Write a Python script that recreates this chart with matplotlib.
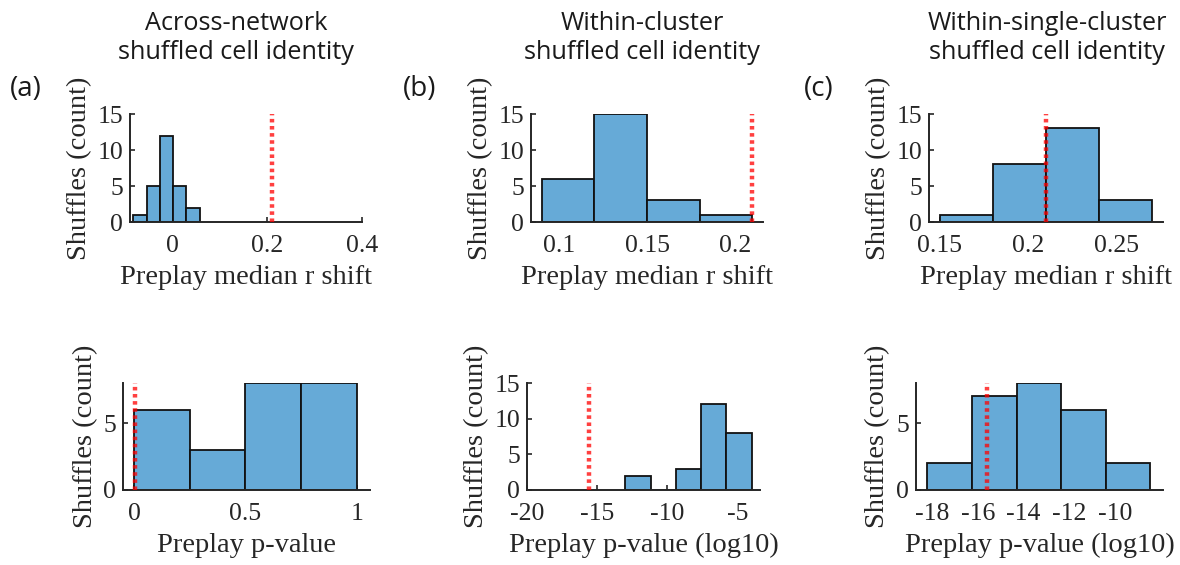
import numpy as np
import matplotlib
matplotlib.use("Agg")
import matplotlib.pyplot as plt

# shuffle histograms: bin edges + counts per panel
a_top_edges = [-0.083, -0.055, -0.027, 0.001, 0.029, 0.057]
a_top_counts = [1, 5, 12, 5, 2]
b_top_edges = [0.09, 0.12, 0.15, 0.18, 0.21]
b_top_counts = [6, 15, 3, 1]
c_top_edges = [0.15, 0.18, 0.21, 0.24, 0.27]
c_top_counts = [1, 8, 13, 3]

a_bot_edges = [0.0, 0.25, 0.5, 0.75, 1.0]
a_bot_counts = [6, 3, 8, 8]
b_bot_edges = [-13.0, -11.2, -9.4, -7.6, -5.8, -4.0]
b_bot_counts = [2, 0, 3, 12, 8]
c_bot_edges = [-18.2, -16.25, -14.3, -12.35, -10.4, -8.45]
c_bot_counts = [2, 7, 8, 6, 2]

# actual (unshuffled) network values
actual_rshift = 0.21
actual_pval = 0.003
actual_logp = -15.6

titles = ["Across-network\nshuffled cell identity",
          "Within-cluster\nshuffled cell identity",
          "Within-single-cluster\nshuffled cell identity"]
panel_tags = ["(a)", "(b)", "(c)"]

BAR = "#66AAD7"
AXC = "#262626"
SERIF = "Liberation Serif"
SANS = "Open Sans"

W, H = 1180, 565
fig = plt.figure(figsize=(W / 100, H / 100), dpi=100)


def add_ax(x0, x1, ytop, ybot):
    return fig.add_axes([x0 / W, 1 - ybot / H, (x1 - x0) / W, (ybot - ytop) / H])


def hist_panel(ax, edges, counts, vline, xlim, xticks, ylim, yticks, xlabel):
    edges = np.asarray(edges)
    ax.bar(edges[:-1], counts, width=np.diff(edges), align="edge",
           color=BAR, edgecolor="#111111", linewidth=1.3, zorder=2)
    ax.plot([vline, vline], [0, ylim[1]], ls=(0, (0.8, 0.8)), color="red",
            alpha=0.75, lw=3.2, zorder=3, solid_capstyle="butt")
    ax.set_xlim(*xlim)
    ax.set_ylim(*ylim)
    ax.set_xticks(xticks)
    ax.set_yticks(yticks)
    ax.set_xticklabels([f"{t:g}" for t in xticks])
    for s in ("top", "right"):
        ax.spines[s].set_visible(False)
    for s in ("left", "bottom"):
        ax.spines[s].set_color(AXC)
        ax.spines[s].set_linewidth(1.4)
    ax.tick_params(direction="in", length=3.5, width=1.2, color=AXC,
                   labelsize=18.5, labelcolor=AXC)
    ax.tick_params(axis="x", pad=9)
    ax.tick_params(axis="y", pad=5)
    for lab in ax.get_xticklabels() + ax.get_yticklabels():
        lab.set_family(SERIF)
    ax.set_xlabel(xlabel, family=SERIF, fontsize=20.5, color=AXC, labelpad=6)
    ax.set_ylabel("Shuffles (count)", family=SERIF, fontsize=20.5, color=AXC, labelpad=4)


# top row: median r shift
ax = add_ax(130, 362, 114, 222)
hist_panel(ax, a_top_edges, a_top_counts, actual_rshift, (-0.09, 0.4), [0, 0.2, 0.4],
           (0, 15), [0, 5, 10, 15], "Preplay median r shift")
ax = add_ax(531, 763, 114, 222)
hist_panel(ax, b_top_edges, b_top_counts, actual_rshift, (0.084, 0.216), [0.1, 0.15, 0.2],
           (0, 15), [0, 5, 10, 15], "Preplay median r shift")
ax = add_ax(929, 1163, 114, 222)
hist_panel(ax, c_top_edges, c_top_counts, actual_rshift, (0.144, 0.276), [0.15, 0.2, 0.25],
           (0, 15), [0, 5, 10, 15], "Preplay median r shift")

# bottom row: p-values
ax = add_ax(123, 370, 383, 490)
hist_panel(ax, a_bot_edges, a_bot_counts, actual_pval, (-0.05, 1.06), [0, 0.5, 1],
           (0, 8), [0, 5], "Preplay p-value")
ax = add_ax(527, 760, 383, 490)
hist_panel(ax, b_bot_edges, b_bot_counts, actual_logp, (-20, -3.4), [-20, -15, -10, -5],
           (0, 15), [0, 5, 10, 15], "Preplay p-value (log10)")
ax = add_ax(916, 1163, 383, 490)
hist_panel(ax, c_bot_edges, c_bot_counts, actual_logp, (-18.7, -7.9), [-18, -16, -14, -12, -10],
           (0, 8), [0, 5], "Preplay p-value (log10)")

for x, t in zip([236, 642, 1047], titles):
    fig.text(x / W, 1 - 38 / H, t, ha="center", va="center", family=SANS,
             fontsize=18.2, color="#1a1a1a", linespacing=1.2)
for x, t in zip([26, 420, 819], panel_tags):
    fig.text(x / W, 1 - 89 / H, t, ha="center", va="center", family=SANS,
             fontsize=20, color="#1a1a1a")

fig.savefig("out.png", dpi=100)
